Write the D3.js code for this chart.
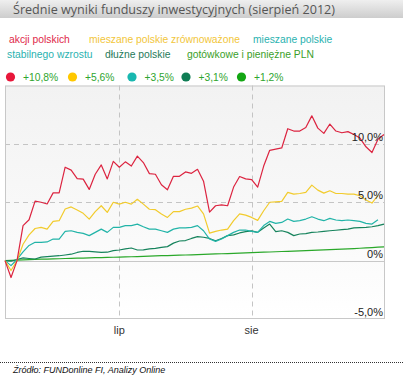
<!DOCTYPE html>
<html><head><meta charset="utf-8">
<script src="https://cdn.jsdelivr.net/npm/d3@7"></script>
<style>html,body{margin:0;padding:0;background:#fff;}svg{display:block;}</style>
</head><body>
<script>
// ---- data ----
const title = "Średnie wyniki funduszy inwestycyjnych (sierpień 2012)";
const source = "Źródło: FUNDonline FI, Analizy Online";
const seriesNames = ["akcji polskich", "mieszane polskie zrównoważone", "mieszane polskie stabilnego wzrostu", "dłużne polskie", "gotówkowe i pieniężne PLN"];
const seriesResults = ["+10,8%", "+5,6%", "+3,5%", "+3,1%", "+1,2%"];
const monthTickIndex = [19, 41];
const monthTickLabels = ["lip", "sie"];
const yTicks = [-5, 0, 5, 10];
const yTickLabels = ["-5,0%", "0%", "5,0%", "10,0%"];

const akcji = [0,-1.45,0,3.0,3.5,5.1,5.0,4.85,5.8,5.8,8.0,7.75,7.03,6.98,6.1,7.4,8.2,7.0,8.5,8.0,8.46,8.1,8.95,8.4,7.45,7.4,6.5,6.07,7.22,7.22,7.6,7.48,7.82,6.8,4.15,4.7,4.77,4.7,6.3,7.2,7.0,6.93,6.3,8.1,9.45,9.55,9.65,11.3,11.1,11.1,11.4,12.4,11.35,10.9,11.7,11.1,10.95,11.05,10.8,10.5,9.75,9.26,10.4,10.8];
const zrownowazone = [0,-0.85,0,1.4,2.2,2.75,2.85,2.7,3.36,3.42,4.42,4.6,4.33,4.05,3.56,4.2,4.7,4.13,5.0,4.84,5.0,4.84,5.25,4.84,4.4,4.36,4.0,3.7,4.2,4.2,4.4,4.5,4.68,4.0,2.35,2.5,2.62,2.7,3.42,4.0,3.9,3.7,3.45,4.27,5.0,5.04,5.07,5.84,5.7,5.75,5.84,6.47,6.04,5.78,5.98,5.75,5.75,5.7,5.7,5.56,5.2,4.93,5.6];
const stabilnego = [0,-0.43,0.1,0.75,1.3,1.57,1.57,1.6,1.85,1.85,2.5,2.56,2.42,2.33,2.14,2.42,2.7,2.42,2.85,2.85,3.0,3.0,3.13,2.9,2.7,2.7,2.56,2.42,2.7,2.8,2.8,2.85,3.0,2.56,1.85,1.65,1.85,2.14,2.42,2.62,2.62,2.5,2.42,3.0,3.36,3.19,3.27,3.56,3.36,3.42,3.56,3.76,3.56,3.42,3.62,3.48,3.42,3.48,3.42,3.36,3.19,3.13,3.5];
const dluzne = [0,-0.05,0.1,0.23,0.18,0.14,0.3,0.34,0.38,0.42,0.48,0.55,0.7,0.8,0.8,0.75,0.71,0.72,0.85,0.91,1.0,1.08,0.91,0.92,1.0,1.05,1.14,1.2,1.5,1.68,1.72,1.9,2.05,2.0,1.9,1.7,1.9,2.14,2.2,2.37,2.48,2.55,2.42,2.8,3.13,2.48,2.56,2.42,2.14,2.28,2.32,2.42,2.45,2.5,2.56,2.6,2.65,2.7,2.8,2.82,2.85,2.9,3.0,3.13];
const gotowkowe = [0,0.02,0.05,0.07,0.09,0.1,0.12,0.13,0.15,0.16,0.18,0.19,0.21,0.22,0.24,0.25,0.26,0.28,0.29,0.3,0.32,0.33,0.35,0.37,0.38,0.4,0.42,0.43,0.45,0.47,0.48,0.5,0.52,0.54,0.55,0.57,0.59,0.6,0.62,0.64,0.66,0.68,0.7,0.72,0.74,0.76,0.78,0.8,0.82,0.84,0.86,0.88,0.9,0.92,0.94,0.96,0.98,1.0,1.03,1.06,1.09,1.12,1.15,1.18];

const seriesData = [akcji, zrownowazone, stabilnego, dluzne, gotowkowe];
const lineColors = ["#dc2440", "#f2cb2c", "#22b4a8", "#16835c", "#2aa82a"];
const dotColors = ["#e8173a", "#ffc800", "#19b8b0", "#0f7d55", "#13a613"];
const nameColors = ["#e0284a", "#f2c63a", "#2ab2b0", "#1f7a5a", "#3aa02a"];

// ---- layout ----
const W = 403, H = 377;
const plot = {l: 5, r: 385, t: 85.5, b: 319};
const svg = d3.select("body").append("svg").attr("width", W).attr("height", H);
const defs = svg.append("defs");

function fitWidth(sel, target, base) {
  const w = sel.node().getComputedTextLength();
  if (w > 0) sel.style("font-size", (base * target / w).toFixed(2) + "px");
}

const tg = defs.append("linearGradient").attr("id", "tbar").attr("x1", 0).attr("y1", 0).attr("x2", 0).attr("y2", 1);
tg.append("stop").attr("offset", "0%").attr("stop-color", "#efefef");
tg.append("stop").attr("offset", "100%").attr("stop-color", "#cdcdcd");
svg.append("rect").attr("x", 0).attr("y", 0).attr("width", W).attr("height", 18).attr("fill", "url(#tbar)");
const titleSel = svg.append("text").attr("x", 13).attr("y", 14).attr("fill", "#555")
  .style("font-family", "'Open Sans', sans-serif").style("font-size", "13.5px").text(title);
fitWidth(titleSel, 322, 13.5);

const FONT = "'Liberation Sans', Arial, sans-serif";
// legend names
const legendNames = [
  {t: "akcji polskich", x: 9, y: 43, c: 0},
  {t: "mieszane polskie zrównoważone", x: 89, y: 43, c: 1},
  {t: "mieszane polskie", x: 253, y: 43, c: 2},
  {t: "stabilnego wzrostu", x: 7, y: 58, c: 2},
  {t: "dłużne polskie", x: 105, y: 58, c: 3},
  {t: "gotówkowe i pieniężne PLN", x: 187, y: 58, c: 4}
];
const names = svg.append("g").selectAll("text").data(legendNames).join("text")
  .attr("x", d => d.x).attr("y", d => d.y).attr("fill", d => nameColors[d.c])
  .style("font-family", FONT).style("font-size", "10.5px").text(d => d.t);
// scale legend font so that the longest entry spans as in the reference
const longW = names.filter((d, i) => i === 1).node().getComputedTextLength();
names.style("font-size", (10.5 * 151 / longW).toFixed(2) + "px");

const dotX = [10.5, 72.5, 132, 186, 241.5];
const lg = svg.append("g").selectAll("g").data(seriesResults).join("g");
lg.append("circle").attr("cx", (d, i) => dotX[i]).attr("cy", 77).attr("r", 4.6).attr("fill", (d, i) => dotColors[i]);
lg.append("text").attr("x", (d, i) => dotX[i] + 12.5).attr("y", 80.5).attr("fill", "#2fa52f")
  .style("font-family", FONT).style("font-size", "10.3px").text(d => d);

// plot background
const bg = defs.append("linearGradient").attr("id", "pbg").attr("x1", 0).attr("y1", 0).attr("x2", 0).attr("y2", 1);
bg.append("stop").attr("offset", "0%").attr("stop-color", "#f2f2f2");
bg.append("stop").attr("offset", "75%").attr("stop-color", "#fbfbfb");
bg.append("stop").attr("offset", "100%").attr("stop-color", "#ffffff");
svg.append("rect").attr("x", plot.l).attr("y", plot.t).attr("width", plot.r - plot.l).attr("height", plot.b - plot.t)
  .attr("fill", "url(#pbg)");

const x = d3.scaleLinear().domain([0, 63]).range([plot.l, plot.r - 1]);
const y = d3.scaleLinear().domain([-5, 15]).range([plot.b, plot.t]);

// grid
const grid = svg.append("g");
grid.selectAll("line.h").data(yTicks.filter(v => v !== 0 && v !== -5)).join("line")
  .attr("x1", plot.l).attr("x2", plot.r).attr("y1", d => Math.round(y(d)) + 0.5).attr("y2", d => Math.round(y(d)) + 0.5)
  .attr("stroke", "#c4c4c4").attr("stroke-dasharray", "5,4");
grid.selectAll("line.v").data(monthTickIndex).join("line")
  .attr("y1", plot.t).attr("y2", plot.b).attr("x1", d => Math.round(x(d)) + 0.5).attr("x2", d => Math.round(x(d)) + 0.5)
  .attr("stroke", "#c4c4c4").attr("stroke-dasharray", "5,4");
grid.append("line").attr("x1", plot.l).attr("x2", plot.r).attr("y1", Math.round(y(0)) + 0.5).attr("y2", Math.round(y(0)) + 0.5)
  .attr("stroke", "#c8c8c8");
svg.append("rect").attr("x", plot.l + 0.5).attr("y", plot.t + 0.5).attr("width", plot.r - plot.l - 1).attr("height", plot.b - plot.t - 1)
  .attr("fill", "none").attr("stroke", "#c8c8c8");

// lines (draw back to front)
const line = d3.line().x((d, i) => x(i)).y(d => y(d));
const order = [4, 3, 2, 1, 0];
svg.append("g").selectAll("path").data(order).join("path")
  .attr("d", i => line(seriesData[i])).attr("fill", "none").attr("stroke", i => lineColors[i])
  .attr("stroke-width", 1.2).attr("stroke-linejoin", "round");

// y tick labels (inside right)
svg.append("g").selectAll("text").data(yTicks).join("text")
  .attr("x", plot.r - 2).attr("y", d => y(d) - 3).attr("text-anchor", "end").attr("fill", "#222")
  .style("font-family", FONT).style("font-size", "11px").text((d, i) => yTickLabels[i]);

// x tick labels
svg.append("g").selectAll("text").data(monthTickIndex).join("text")
  .attr("x", d => x(d)).attr("y", 334).attr("text-anchor", "middle").attr("fill", "#333")
  .style("font-family", FONT).style("font-size", "11px").text((d, i) => monthTickLabels[i]);

// source
svg.append("line").attr("x1", 0).attr("x2", W).attr("y1", 362.5).attr("y2", 362.5)
  .attr("stroke", "#333").attr("stroke-dasharray", "1,1");
svg.append("text").attr("x", 13).attr("y", 373).attr("fill", "#111")
  .style("font-family", FONT).style("font-size", "9px").style("font-style", "italic").text(source);
</script>
</body></html>
